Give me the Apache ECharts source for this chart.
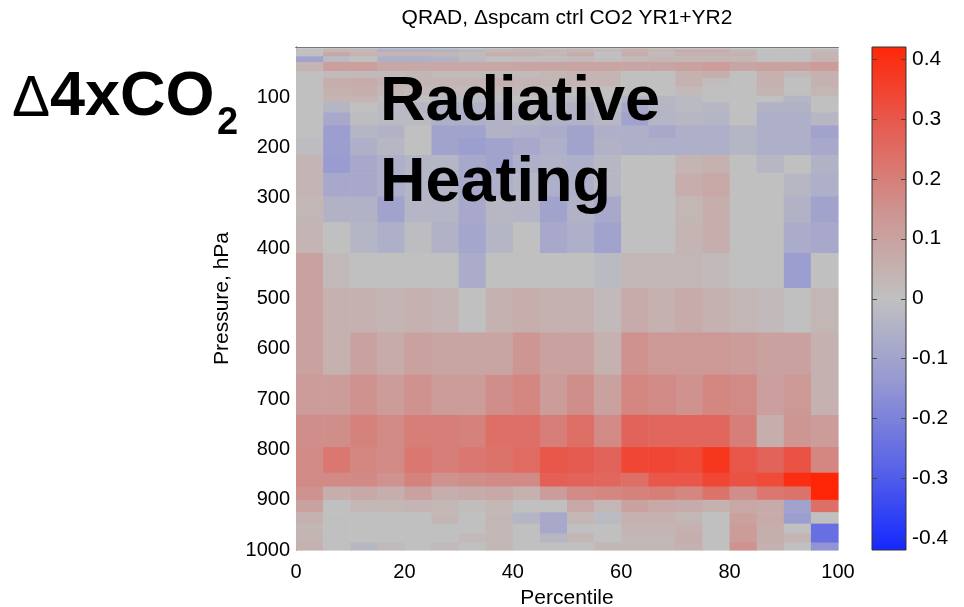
<!DOCTYPE html>
<html>
<head>
<meta charset="utf-8">
<script src="https://cdn.jsdelivr.net/npm/echarts@6/dist/echarts.min.js"></script>
<style>
html,body{margin:0;padding:0;background:#fff;}
#chart{width:964px;height:607px;}
</style>
</head>
<body>
<div id="chart"></div>
<script>
// ---- data ----
// column edges (percentile)
var percentileEdges = [0,5,10,15,20,25,30,35,40,45,50,55,60,65,70,75,80,85,90,95,100];
// model level interfaces (hPa), top to bottom
var pressureEdges = [2.26,5.03,10.16,18.55,29.68,47.86,61.35,78.68,96.99,110.1,130.1,155.9,180.9,214.8,250.8,297.1,348.6,409.5,479.1,567.5,651.4,731.4,795.3,846.4,873.7,900.3,924.8,947.6,967.4,985.1,1000];
// QRAD change (K/day), one row per layer from top to bottom, 20 percentile bins each
var qrad = [
 [0,0.02,0.02,-0.03,-0.03,-0.02,0,0.02,0.03,0.02,0.03,0.02,0.05,0.03,0.02,0.02,0,0,0,0],
 [0,0.03,0.02,-0.06,-0.06,-0.05,-0.03,0.02,0.03,0.03,0.03,0.02,0.05,0.03,0.07,0.07,0.03,0,0,0.02],
 [0,0.08,0.04,0.04,0.04,0.04,0.02,0.06,0.05,0.03,0.07,0,0.06,0.02,0.05,0.05,0.05,0,0,0.04],
 [-0.1,-0.02,0,-0.06,-0.06,-0.05,-0.02,0,0.01,0.01,0.02,0.01,0.02,0.03,0.03,0.03,0.03,0,0,0.04],
 [0.04,0.11,0.11,0.08,0.08,0.08,0.08,0.08,0.09,0.09,0.09,0.09,0.09,0.09,0.1,0.12,0.09,0.1,0.1,0.12],
 [0,0.02,0.02,0.02,0.03,0.02,0.02,0.02,0.02,0.03,0.04,0.04,0,0,0.05,0.06,0,0.05,0.02,0.05],
 [0,0.06,0.07,0.05,0.04,0.04,0.04,0.05,0.04,0.03,0.04,0.04,0,0,0.05,0.01,0,0.05,0,0.05],
 [0,0.05,0.06,0.03,0.02,0.02,0.02,0.02,0.02,0.01,0,0,0,0,0.02,0,0,0.04,0,0.03],
 [0,0.04,0.04,0.01,0,-0.02,-0.02,-0.01,0,-0.02,-0.02,0,-0.04,-0.03,-0.02,0,0,0,-0.04,0],
 [0,-0.04,0,-0.02,-0.03,-0.05,-0.05,-0.04,-0.02,-0.04,-0.05,-0.02,-0.08,-0.04,-0.02,-0.03,0,-0.05,-0.05,0],
 [0,-0.08,-0.01,-0.02,-0.02,-0.06,-0.06,-0.05,-0.03,-0.05,-0.05,-0.03,-0.1,-0.04,-0.03,-0.04,0,-0.06,-0.06,-0.03],
 [0,-0.12,-0.04,-0.05,0,-0.1,-0.1,-0.05,-0.06,-0.07,-0.1,-0.06,-0.06,-0.08,-0.06,-0.06,-0.04,-0.06,-0.06,-0.1],
 [-0.01,-0.12,-0.06,-0.03,0,-0.1,-0.12,-0.1,-0.08,-0.06,-0.1,-0.05,-0.06,-0.06,-0.06,-0.06,-0.04,-0.06,-0.06,-0.08],
 [0.04,-0.13,-0.08,-0.06,-0.04,-0.04,-0.08,-0.1,-0.06,-0.05,-0.06,-0.03,0,0,0.04,0.05,0,-0.03,0,-0.05],
 [0.04,-0.08,-0.08,-0.06,-0.04,-0.04,-0.08,-0.06,-0.04,-0.06,-0.06,-0.03,0,0,0.06,0.08,0,0,-0.03,-0.06],
 [0.03,-0.05,-0.05,-0.1,-0.04,-0.04,-0.08,-0.03,-0.04,-0.1,-0.05,-0.08,0,0,0.03,0.06,0,0,-0.05,-0.1],
 [0.04,0,-0.04,-0.06,-0.01,-0.05,-0.09,-0.04,0,-0.08,-0.06,-0.1,0,0,0.04,0.06,0,0,-0.07,-0.08],
 [0.1,0.02,0,0,0,0,-0.07,0,0,0,0,-0.02,0.03,0.03,0.03,0.02,0,0,-0.12,0],
 [0.1,0.05,0.05,0.04,0.05,0.04,0,0.05,0.06,0.05,0.05,0.02,0.07,0.05,0.07,0.05,0.03,0.02,0,0.03],
 [0.1,0.05,0.1,0.07,0.1,0.09,0.09,0.09,0.14,0.1,0.1,0.05,0.15,0.13,0.13,0.13,0.12,0.1,0.1,0.05],
 [0.12,0.12,0.15,0.12,0.15,0.12,0.12,0.16,0.18,0.12,0.16,0.1,0.18,0.17,0.15,0.18,0.17,0.11,0.13,0.05],
 [0.16,0.16,0.19,0.17,0.2,0.2,0.19,0.24,0.24,0.2,0.24,0.17,0.27,0.26,0.26,0.26,0.2,0.06,0.14,0.12],
 [0.17,0.22,0.18,0.17,0.22,0.2,0.22,0.23,0.25,0.3,0.29,0.27,0.34,0.34,0.33,0.38,0.3,0.27,0.31,0.18],
 [0.17,0.17,0.17,0.15,0.19,0.15,0.16,0.17,0.17,0.28,0.27,0.26,0.24,0.3,0.3,0.34,0.31,0.33,0.4,0.42],
 [0.15,0.06,0.08,0.06,0.1,0.06,0.07,0.08,0.05,0.12,0.17,0.18,0.19,0.2,0.18,0.23,0.16,0.22,0.23,0.42],
 [0.1,0,0.03,0.03,0.04,0.03,0.01,0.03,0,0,0.08,0.03,0.1,0.08,0.07,0.05,0.08,0.07,-0.1,0.24],
 [0.05,0,0,0,0,0.03,0,0.03,-0.04,-0.08,0.03,-0.02,0.05,0.05,0.03,0,0.1,0.07,-0.12,0],
 [0.03,0,0,0,0,0,0,0.03,0,-0.08,0,0,0.04,0.04,0.05,0,0.12,0.06,0,-0.25],
 [0.04,0,0,0,0,0,0.02,0.03,0,-0.03,0.03,0,0.03,0.03,0.06,0,0.12,0.06,0.04,-0.25],
 [0.05,0,-0.03,0.02,0,0.02,0,0.03,0,0,0,0.03,0.03,0.03,0.05,0,0.15,0.05,0,-0.15]
];
var xTicks = [0,20,40,60,80,100];
var colorTicks = [-0.4,-0.3,-0.2,-0.1,0,0.1,0.2,0.3,0.4];
var colorLimit = 0.42;
var cmap = ['#1428ff','#5a64e6','#9698d2','#c0c0c0','#cd9693','#e45f55','#ff2608'];

// ---- build ----
var cells = [];
for (var r = 0; r < qrad.length; r++) {
  for (var c = 0; c < qrad[r].length; c++) {
    cells.push([percentileEdges[c], percentileEdges[c+1], pressureEdges[r], pressureEdges[r+1], qrad[r][c]]);
  }
}
var FONT = 'Liberation Sans, Arial, Helvetica, sans-serif';
var chart = echarts.init(document.getElementById('chart'), null, {renderer: 'canvas'});

function cellRender(params, api) {
  var a = api.coord([api.value(0), api.value(2)]);
  var b = api.coord([api.value(1), api.value(3)]);
  return {
    type: 'rect',
    shape: {x: Math.min(a[0], b[0]), y: Math.min(a[1], b[1]), width: Math.abs(b[0]-a[0]) + 0.6, height: Math.abs(b[1]-a[1]) + 0.6},
    style: {fill: api.visual('color')}
  };
}
function barRender(params, api) {
  var a = api.coord([0, api.value(1)]);
  var b = api.coord([1, api.value(0)]);
  var stops = cmap.map(function (col, i) { return {offset: i / (cmap.length - 1), color: col}; });
  var children = [{
    type: 'rect',
    shape: {x: a[0], y: a[1], width: b[0]-a[0], height: b[1]-a[1]},
    style: {fill: new echarts.graphic.LinearGradient(0, 1, 0, 0, stops), stroke: '#333', lineWidth: 1}
  }];
  colorTicks.forEach(function (t) {
    var p = api.coord([0, t]);
    var y = Math.round(p[1]) + 0.5;
    children.push({type: 'line', shape: {x1: a[0], y1: y, x2: a[0] + 5, y2: y}, style: {stroke: '#444', lineWidth: 1}});
    children.push({type: 'line', shape: {x1: b[0] - 5, y1: y, x2: b[0], y2: y}, style: {stroke: '#444', lineWidth: 1}});
  });
  return {type: 'group', children: children};
}

var option = {
  animation: false,
  backgroundColor: '#fff',
  textStyle: {fontFamily: FONT},
  grid: [
    {left: 296, top: 47, width: 542, height: 503, containLabel: false, outerBoundsMode: 'none'},
    {left: 872, top: 47, width: 34, height: 503, containLabel: false, outerBoundsMode: 'none'}
  ],
  visualMap: {
    show: false, type: 'continuous', seriesIndex: 0, dimension: 4,
    min: -colorLimit, max: colorLimit, inRange: {color: cmap}
  },
  xAxis: [
    {gridIndex: 0, type: 'value', min: 0, max: 100, interval: 20, position: 'bottom',
     name: 'Percentile', nameLocation: 'middle', nameGap: 38,
     nameTextStyle: {fontSize: 21, color: '#000', fontFamily: FONT},
     axisLine: {lineStyle: {color: '#333', width: 1}}, axisTick: {show: false},
     axisLabel: {fontSize: 20, color: '#000', margin: 12, fontFamily: FONT},
     splitLine: {show: false}},
    {gridIndex: 0, type: 'value', min: 0, max: 100, position: 'top',
     axisLine: {lineStyle: {color: '#777', width: 1}}, axisTick: {show: false}, axisLabel: {show: false}, splitLine: {show: false}},
    {gridIndex: 1, type: 'value', min: 0, max: 1, show: false}
  ],
  yAxis: [
    {gridIndex: 0, type: 'value', min: 0, max: 1000, interval: 100, inverse: true, position: 'left',
     name: 'Pressure, hPa', nameLocation: 'middle', nameGap: 63, nameRotate: 90,
     nameTextStyle: {fontSize: 21, color: '#000', fontFamily: FONT},
     axisLine: {lineStyle: {color: '#666', width: 1}}, axisTick: {show: false},
     axisLabel: {fontSize: 20, color: '#000', margin: 6, fontFamily: FONT,
       formatter: function (v) { return v === 0 ? '' : String(v); }},
     splitLine: {show: false}},
    {gridIndex: 0, type: 'value', min: 0, max: 1000, inverse: true, position: 'right',
     axisLine: {lineStyle: {color: '#777', width: 1}}, axisTick: {show: false}, axisLabel: {show: false}, splitLine: {show: false}},
    {gridIndex: 1, type: 'value', min: -colorLimit, max: colorLimit, position: 'right',
     axisLine: {show: false}, axisTick: {show: false},
     axisLabel: {fontSize: 21, color: '#000', margin: 6, fontFamily: FONT, customValues: colorTicks,
       formatter: function (v) { return Math.abs(v) < 1e-9 ? '0' : v.toFixed(1); }},
     splitLine: {show: false}}
  ],
  series: [
    {type: 'custom', name: 'QRAD', xAxisIndex: 0, yAxisIndex: 0, renderItem: cellRender,
     encode: {x: [0, 1], y: [2, 3]}, data: cells, z: 1, silent: true},
    {type: 'custom', name: 'colorbar', xAxisIndex: 2, yAxisIndex: 2, renderItem: barRender,
     encode: {y: [0, 1]}, data: [[-colorLimit, colorLimit]], z: 1, silent: true}
  ],
  graphic: [
    {type: 'text', x: 567, y: 18, z: 100, style: {text: 'QRAD, \u0394spcam ctrl CO2 YR1+YR2', fill: '#000',
      font: '21px ' + FONT, textAlign: 'center', textVerticalAlign: 'middle'}},
    {type: 'text', x: 380, y: 103, z: 100, style: {text: 'Radiative', fill: '#000',
      font: 'bold 63px ' + FONT, textAlign: 'left', textVerticalAlign: 'middle'}},
    {type: 'text', x: 380, y: 184, z: 100, style: {text: 'Heating', fill: '#000',
      font: 'bold 63px ' + FONT, textAlign: 'left', textVerticalAlign: 'middle'}},
    {type: 'text', x: 12, y: 100, z: 100, style: {text: '\u0394', fill: '#000',
      font: '57px ' + FONT, textAlign: 'left', textVerticalAlign: 'middle'}},
    {type: 'text', x: 50, y: 98, z: 100, style: {text: '4xCO', fill: '#000',
      font: 'bold 63px ' + FONT, textAlign: 'left', textVerticalAlign: 'middle'}},
    {type: 'text', x: 217, y: 124, z: 100, style: {text: '2', fill: '#000',
      font: 'bold 38px ' + FONT, textAlign: 'left', textVerticalAlign: 'middle'}}
  ]
};
chart.setOption(option);
</script>
</body>
</html>
